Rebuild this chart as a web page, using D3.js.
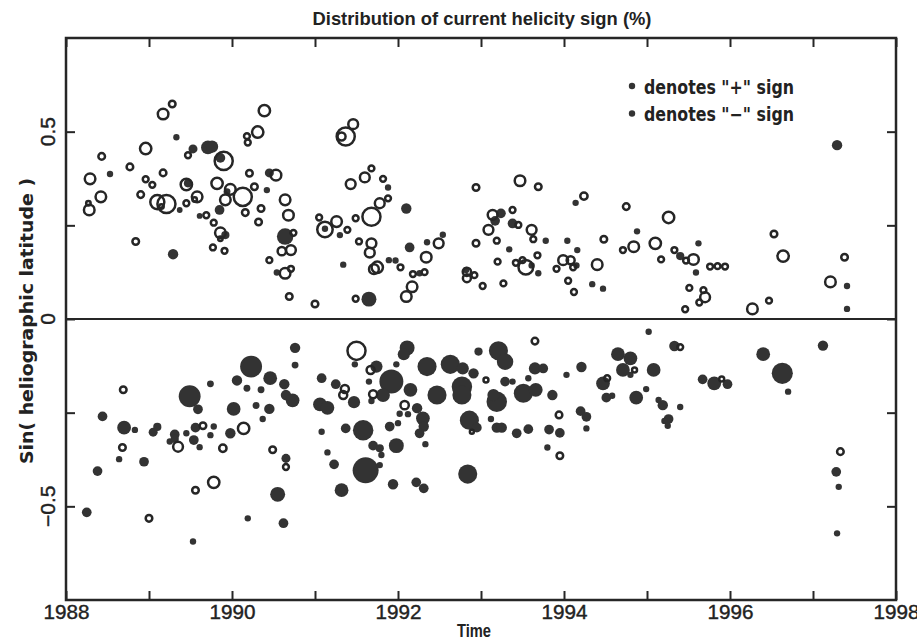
<!DOCTYPE html>
<html>
<head>
<meta charset="utf-8">
<script src="https://cdn.jsdelivr.net/npm/d3@7"></script>
<style>
  html, body { margin: 0; padding: 0; background: #fff; }
  svg { display: block; }
</style>
</head>
<body>
<svg id="chart" width="917" height="641"></svg>
<script>
// Active regions: [time (yr), sin(latitude), share of dominant sign (%)]
const hollowPts = [
  [1988.29, 0.374, 25], [1988.43, 0.434, 12], [1988.42, 0.326, 25], [1988.28, 0.291, 25],
  [1988.27, 0.309, 7], [1988.77, 0.406, 12], [1988.84, 0.207, 12], [1988.90, 0.332, 12],
  [1988.96, 0.455, 28], [1988.96, 0.373, 10], [1989.04, 0.358, 10], [1989.10, 0.312, 40],
  [1989.21, 0.307, 62], [1989.15, 0.300, 7], [1989.17, 0.547, 25], [1989.28, 0.574, 12],
  [1989.17, 0.390, 12], [1989.45, 0.309, 10], [1989.45, 0.359, 28], [1989.47, 0.437, 10],
  [1989.58, 0.326, 25], [1989.55, 0.319, 7], [1989.69, 0.277, 10], [1989.78, 0.257, 10],
  [1989.82, 0.362, 28], [1989.90, 0.422, 62], [1989.92, 0.318, 25], [1989.98, 0.346, 25],
  [1990.13, 0.326, 62], [1989.86, 0.230, 25], [1989.86, 0.214, 7], [1989.77, 0.191, 10],
  [1989.91, 0.182, 10], [1990.16, 0.284, 12], [1990.18, 0.488, 10], [1990.19, 0.471, 10],
  [1990.31, 0.499, 28], [1990.39, 0.556, 28], [1990.21, 0.389, 12], [1990.27, 0.353, 12],
  [1990.35, 0.295, 12], [1990.32, 0.259, 12], [1990.53, 0.384, 25], [1990.64, 0.318, 25],
  [1990.68, 0.277, 25], [1990.74, 0.230, 10], [1990.60, 0.181, 17], [1990.71, 0.184, 22],
  [1990.45, 0.157, 10], [1990.64, 0.122, 25], [1990.71, 0.134, 10], [1990.69, 0.060, 12],
  [1991.00, 0.040, 12], [1991.05, 0.271, 10], [1991.12, 0.239, 47], [1991.26, 0.260, 25],
  [1991.37, 0.487, 62], [1991.32, 0.487, 16], [1991.46, 0.520, 22], [1991.43, 0.360, 22],
  [1991.60, 0.378, 22], [1991.68, 0.402, 10], [1991.82, 0.374, 10], [1991.78, 0.309, 22],
  [1991.88, 0.322, 10], [1991.68, 0.273, 62], [1991.49, 0.269, 10], [1991.39, 0.238, 10],
  [1991.53, 0.207, 10], [1991.68, 0.202, 22], [1991.66, 0.177, 22], [1991.75, 0.138, 28],
  [1991.71, 0.133, 22], [1992.03, 0.138, 10], [1992.18, 0.120, 10], [1992.32, 0.125, 10],
  [1992.17, 0.086, 25], [1992.10, 0.060, 25], [1992.34, 0.165, 25], [1992.49, 0.202, 22],
  [1991.49, 0.054, 10], [1992.94, 0.351, 12], [1992.94, 0.202, 12], [1992.83, 0.126, 17],
  [1992.83, 0.109, 16], [1992.92, 0.117, 10], [1993.02, 0.088, 10], [1993.27, 0.095, 10],
  [1993.20, 0.153, 10], [1993.14, 0.278, 22], [1993.09, 0.238, 22], [1993.19, 0.209, 10],
  [1993.38, 0.291, 10], [1993.45, 0.251, 10], [1993.47, 0.369, 25], [1993.69, 0.353, 12],
  [1993.61, 0.238, 22], [1993.63, 0.213, 10], [1993.42, 0.150, 10], [1993.54, 0.138, 43],
  [1993.50, 0.157, 10], [1993.68, 0.170, 10], [1993.99, 0.157, 22], [1993.91, 0.134, 10],
  [1994.08, 0.157, 16], [1994.11, 0.138, 10], [1994.05, 0.102, 10], [1994.12, 0.072, 10],
  [1994.40, 0.145, 25], [1994.24, 0.328, 14], [1994.48, 0.213, 12], [1994.75, 0.300, 12],
  [1995.26, 0.271, 28], [1994.84, 0.193, 25], [1994.71, 0.184, 10], [1995.10, 0.202, 28],
  [1995.17, 0.159, 10], [1995.33, 0.184, 10], [1995.47, 0.156, 10], [1995.56, 0.159, 25],
  [1995.76, 0.140, 10], [1995.85, 0.141, 10], [1995.94, 0.140, 10], [1995.51, 0.083, 10],
  [1995.68, 0.077, 10], [1995.70, 0.058, 22], [1995.63, 0.044, 10], [1995.46, 0.026, 10],
  [1996.27, 0.027, 25], [1996.47, 0.049, 10], [1996.53, 0.227, 12], [1996.64, 0.168, 28],
  [1997.21, 0.099, 25], [1997.38, 0.165, 12],
  [1988.69, -0.189, 12], [1989.35, -0.341, 22], [1989.65, -0.285, 12], [1990.14, -0.292, 28],
  [1989.89, -0.345, 14], [1988.68, -0.343, 12], [1990.49, -0.349, 12], [1990.65, -0.395, 10],
  [1989.78, -0.436, 28], [1989.56, -0.457, 12], [1989.00, -0.532, 12], [1991.50, -0.085, 62],
  [1991.67, -0.136, 16], [1991.36, -0.187, 16], [1991.34, -0.203, 16], [1991.70, -0.201, 16],
  [1992.08, -0.230, 17], [1993.06, -0.163, 8], [1993.65, -0.059, 12], [1994.52, -0.158, 10],
  [1992.89, -0.301, 6], [1993.94, -0.256, 12], [1993.95, -0.365, 12], [1995.40, -0.075, 10],
  [1994.85, -0.136, 8], [1995.90, -0.160, 8], [1997.33, -0.354, 12]
];

const solidPts = [
  [1988.53, 0.387, 6], [1989.29, 0.173, 16], [1989.33, 0.485, 6], [1989.37, 0.291, 5],
  [1989.47, 0.362, 10], [1989.53, 0.454, 12], [1989.61, 0.275, 5], [1989.71, 0.458, 28],
  [1989.76, 0.460, 22], [1989.86, 0.430, 14], [1989.85, 0.291, 14], [1989.94, 0.340, 7],
  [1989.92, 0.224, 10], [1990.42, 0.344, 6], [1990.45, 0.390, 12], [1990.64, 0.220, 40],
  [1990.54, 0.124, 6], [1991.12, 0.241, 6], [1991.88, 0.351, 6], [1991.30, 0.224, 6],
  [1992.10, 0.295, 16], [1991.34, 0.145, 6], [1991.89, 0.157, 6], [1991.97, 0.156, 6],
  [1992.14, 0.191, 14], [1992.26, 0.122, 6], [1992.35, 0.205, 6], [1992.54, 0.225, 6],
  [1991.65, 0.053, 33], [1992.82, 0.131, 6], [1993.24, 0.282, 14], [1993.17, 0.262, 14],
  [1993.38, 0.255, 14], [1993.34, 0.186, 6], [1993.78, 0.209, 6], [1993.61, 0.143, 6],
  [1993.69, 0.122, 6], [1994.04, 0.209, 6], [1994.16, 0.184, 6], [1994.15, 0.143, 6],
  [1994.34, 0.093, 6], [1994.47, 0.081, 6], [1994.14, 0.310, 6], [1997.29, 0.464, 16],
  [1994.88, 0.234, 6], [1995.40, 0.168, 10], [1995.62, 0.202, 6], [1995.59, 0.124, 6],
  [1997.41, 0.088, 6], [1997.41, 0.027, 6],
  [1990.76, -0.077, 16], [1990.76, -0.123, 7], [1990.23, -0.127, 71], [1990.46, -0.158, 28],
  [1990.06, -0.164, 16], [1989.74, -0.173, 7], [1990.18, -0.185, 7], [1990.35, -0.189, 7],
  [1990.63, -0.174, 16], [1990.65, -0.203, 16], [1990.73, -0.217, 28], [1989.49, -0.206, 71],
  [1989.59, -0.241, 14], [1990.02, -0.240, 28], [1990.29, -0.231, 7], [1990.45, -0.240, 16],
  [1990.37, -0.267, 6], [1988.44, -0.260, 14], [1988.70, -0.290, 28], [1988.83, -0.296, 6],
  [1989.05, -0.302, 12], [1989.10, -0.288, 10], [1989.31, -0.308, 14], [1989.25, -0.327, 6],
  [1989.31, -0.320, 10], [1989.45, -0.305, 6], [1989.56, -0.290, 14], [1989.78, -0.287, 6],
  [1989.54, -0.323, 14], [1989.61, -0.342, 6], [1989.74, -0.310, 6], [1989.98, -0.305, 16],
  [1988.64, -0.374, 6], [1988.38, -0.406, 14], [1988.94, -0.381, 14], [1990.65, -0.372, 12],
  [1991.08, -0.158, 14], [1991.25, -0.174, 14], [1991.06, -0.228, 28], [1991.15, -0.237, 28],
  [1991.08, -0.301, 6], [1991.15, -0.356, 6], [1991.23, -0.388, 14], [1990.55, -0.468, 33],
  [1988.25, -0.516, 14], [1990.19, -0.532, 6], [1990.62, -0.545, 14], [1989.53, -0.594, 6],
  [1991.48, -0.121, 6], [1992.11, -0.077, 33], [1992.07, -0.094, 22], [1991.98, -0.121, 6],
  [1991.74, -0.127, 22], [1991.65, -0.167, 6], [1991.47, -0.222, 22], [1991.68, -0.219, 6],
  [1991.92, -0.167, 85], [1991.82, -0.203, 28], [1992.15, -0.189, 28], [1992.35, -0.127, 54],
  [1992.47, -0.203, 54], [1992.63, -0.121, 54], [1992.78, -0.132, 22], [1992.77, -0.181, 62],
  [1992.77, -0.203, 54], [1992.91, -0.145, 16], [1992.97, -0.087, 10], [1993.21, -0.085, 54],
  [1993.29, -0.114, 40], [1993.19, -0.221, 62], [1993.15, -0.203, 22], [1993.29, -0.167, 14],
  [1993.38, -0.167, 6], [1993.51, -0.198, 54], [1993.66, -0.189, 28], [1993.57, -0.158, 6],
  [1993.65, -0.132, 22], [1993.75, -0.132, 14], [1993.86, -0.203, 16], [1994.03, -0.149, 6],
  [1994.21, -0.128, 16], [1994.47, -0.172, 28], [1994.51, -0.210, 14], [1992.02, -0.253, 6],
  [1992.12, -0.254, 6], [1992.23, -0.238, 16], [1992.30, -0.265, 28], [1992.31, -0.287, 16],
  [1992.26, -0.305, 14], [1992.33, -0.334, 6], [1992.86, -0.270, 54], [1992.95, -0.290, 14],
  [1993.12, -0.267, 6], [1993.19, -0.290, 16], [1993.25, -0.290, 16], [1993.43, -0.305, 14],
  [1993.57, -0.294, 14], [1993.82, -0.295, 14], [1993.95, -0.304, 14], [1994.20, -0.246, 14],
  [1994.27, -0.261, 14], [1994.27, -0.292, 6], [1991.37, -0.292, 14], [1991.58, -0.297, 62],
  [1991.90, -0.287, 14], [1992.00, -0.278, 6], [1991.98, -0.338, 33], [1991.70, -0.338, 14],
  [1991.78, -0.345, 10], [1991.80, -0.363, 6], [1991.61, -0.404, 100], [1991.78, -0.390, 6],
  [1993.80, -0.343, 6], [1992.84, -0.414, 54], [1991.94, -0.441, 16], [1992.22, -0.436, 14],
  [1992.31, -0.452, 14], [1991.32, -0.457, 28], [1995.02, -0.034, 6], [1995.33, -0.072, 16],
  [1994.65, -0.094, 28], [1994.80, -0.105, 28], [1994.71, -0.136, 28], [1994.80, -0.149, 6],
  [1994.58, -0.205, 6], [1994.87, -0.210, 28], [1994.99, -0.187, 6], [1995.08, -0.136, 28],
  [1995.14, -0.216, 6], [1995.19, -0.230, 16], [1995.40, -0.235, 6], [1995.26, -0.267, 14],
  [1995.21, -0.272, 6], [1995.25, -0.285, 6], [1995.67, -0.161, 14], [1995.81, -0.172, 28],
  [1995.97, -0.174, 14], [1996.40, -0.094, 28], [1996.63, -0.145, 66], [1996.70, -0.194, 6],
  [1997.12, -0.071, 16], [1997.28, -0.408, 14], [1997.31, -0.448, 6], [1997.29, -0.572, 6]
];

const xTicks = [1988, 1989, 1990, 1991, 1992, 1993, 1994, 1995, 1996, 1997, 1998];
const yTicks = [-0.5, -0.25, 0, 0.25, 0.5];
const yLabelled = [-0.5, 0, 0.5];
const legendItems = ['denotes "+" sign', 'denotes "\u2212" sign'];

const titleText = "Distribution of current helicity sign (%)";
const xTitle = "Time";
const yTitle = "Sin( heliographic latitude )";

const ink = "#262626";
const margin = { left: 66, right: 21, top: 38, bottom: 41 };
const W = 917, H = 641;

const svg = d3.select("#chart");
const x = d3.scaleLinear().domain([1988, 1998]).range([margin.left, W - margin.right]);
const y = d3.scaleLinear().domain([-0.75, 0.75]).range([H - margin.bottom, margin.top]);
const r = d3.scaleSqrt().domain([0, 100]).range([0, 13]);

const plotW = x.range()[1] - x.range()[0];
const plotH = y.range()[0] - y.range()[1];

// Marks
const marks = svg.append("g");
marks.selectAll("circle.solid")
  .data(solidPts)
  .join("circle")
  .attr("class", "solid")
  .attr("cx", d => x(d[0]))
  .attr("cy", d => y(d[1]))
  .attr("r", d => r(d[2]))
  .attr("fill", "#333");

marks.selectAll("circle.hollow")
  .data(hollowPts)
  .join("circle")
  .attr("class", "hollow")
  .attr("cx", d => x(d[0]))
  .attr("cy", d => y(d[1]))
  .attr("r", d => Math.max(r(d[2]) - 1.2, 1.6))
  .attr("fill", "none")
  .attr("stroke", ink)
  .attr("stroke-width", 2.5);

// Axes: ticks point inward on all four sides
const tickFont = "'Liberation Sans', Arial, sans-serif";

const gBottom = svg.append("g")
  .attr("transform", `translate(0,${y(-0.75)})`)
  .call(d3.axisBottom(x).tickValues(xTicks)
    .tickFormat(d => d % 2 === 0 ? String(d) : "")
    .tickSizeInner(-9).tickSizeOuter(0).tickPadding(4));
const gTop = svg.append("g")
  .attr("transform", `translate(0,${y(0.75)})`)
  .call(d3.axisTop(x).tickValues(xTicks).tickFormat("")
    .tickSizeInner(-9).tickSizeOuter(0));
const gLeft = svg.append("g")
  .attr("transform", `translate(${x(1988)},0)`)
  .call(d3.axisLeft(y).tickValues(yTicks).tickFormat("")
    .tickSizeInner(-9).tickSizeOuter(0));
const gRight = svg.append("g")
  .attr("transform", `translate(${x(1998)},0)`)
  .call(d3.axisRight(y).tickValues(yTicks).tickFormat("")
    .tickSizeInner(-9).tickSizeOuter(0));

[gBottom, gTop, gLeft, gRight].forEach(g => {
  g.select(".domain").remove();
  g.selectAll(".tick line").attr("stroke", ink).attr("stroke-width", 2);
});
gBottom.selectAll(".tick text")
  .attr("font-family", tickFont)
  .attr("font-size", 21)
  .attr("fill", "#222")
  .attr("stroke", "#222")
  .attr("stroke-width", 0.4)
  .attr("textLength", 46)
  .attr("lengthAdjust", "spacingAndGlyphs");

// Rotated y tick labels
svg.append("g").selectAll("text")
  .data(yLabelled)
  .join("text")
  .attr("transform", d => `translate(55,${y(d)}) rotate(-90)`)
  .attr("text-anchor", "middle")
  .attr("font-family", tickFont)
  .attr("font-size", 21)
  .attr("fill", "#222")
  .attr("stroke", "#222")
  .attr("stroke-width", 0.4)
  .text(d => d === 0 ? "0" : (d < 0 ? "\u2212" : "") + Math.abs(d).toFixed(1));

// Frame and zero line
svg.append("rect")
  .attr("x", x(1988)).attr("y", y(0.75))
  .attr("width", plotW).attr("height", plotH)
  .attr("fill", "none").attr("stroke", ink).attr("stroke-width", 2.5);
svg.append("line")
  .attr("x1", x(1988)).attr("x2", x(1998))
  .attr("y1", y(0)).attr("y2", y(0))
  .attr("stroke", ink).attr("stroke-width", 2);

// Titles
svg.append("text")
  .attr("x", 482).attr("y", 25)
  .attr("text-anchor", "middle")
  .attr("font-family", tickFont)
  .attr("font-weight", "bold")
  .attr("font-size", 19)
  .attr("textLength", 339).attr("lengthAdjust", "spacingAndGlyphs")
  .attr("fill", "#222")
  .text(titleText);

svg.append("text")
  .attr("x", 474).attr("y", 637)
  .attr("text-anchor", "middle")
  .attr("font-family", tickFont)
  .attr("font-weight", "bold")
  .attr("font-size", 19)
  .attr("textLength", 34).attr("lengthAdjust", "spacingAndGlyphs")
  .attr("fill", "#222")
  .text(xTitle);

svg.append("text")
  .attr("transform", `translate(33,${y(0) + 2}) rotate(-90)`)
  .attr("text-anchor", "middle")
  .attr("font-family", "'DejaVu Sans', sans-serif")
  .attr("font-weight", "bold")
  .attr("font-size", 18)
  .attr("textLength", 286).attr("lengthAdjust", "spacingAndGlyphs")
  .attr("fill", "#222")
  .text(yTitle);

// Legend
const legend = svg.append("g").attr("transform", "translate(632,86)");
legendItems.forEach((t, i) => {
  const row = legend.append("g").attr("transform", `translate(0,${i * 27.5})`);
  row.append("circle").attr("r", 3.2).attr("fill", "#333");
  row.append("text")
    .attr("x", 12).attr("y", 7.5)
    .attr("font-family", "'DejaVu Sans', sans-serif")
    .attr("font-weight", "bold")
    .attr("font-size", 19)
    .attr("textLength", 150).attr("lengthAdjust", "spacingAndGlyphs")
    .attr("fill", "#222")
    .text(t);
});
</script>
</body>
</html>
